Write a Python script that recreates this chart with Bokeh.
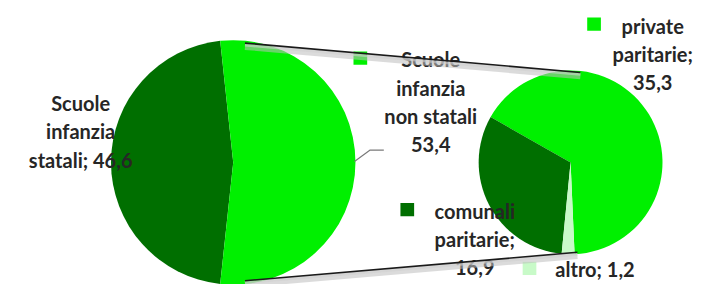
import numpy as np
from bokeh.plotting import figure
from bokeh.models import Range1d, ColumnDataSource
from bokeh.core.properties import value
from bokeh.embed import file_html
from bokeh.resources import INLINE

# ---- data ----
main_labels = ["Scuole infanzia statali", "Scuole infanzia non statali"]
main_values = [46.6, 53.4]
sub_labels = ["private paritarie", "comunali paritarie", "altro"]
sub_values = [35.3, 16.9, 1.2]

# ---- styles ----
DARK = "#006F00"
BRIGHT = "#00F000"
LIGHT = "#C8FAC8"
TXT = "#262626"
FONT = value("Lato")

W, H = 706, 284
p = figure(width=W, height=H, output_backend="svg", toolbar_location=None,
           x_axis_location=None, y_axis_location=None, min_border=0,
           x_range=Range1d(0, 722), y_range=Range1d(0, 300))
p.grid.visible = False
p.outline_line_color = None
p.background_fill_color = "white"


def Y(py):
    # reference pixel y -> data y
    return 300 - py


def fmt(v):
    return f"{v:.1f}".replace(".", ",")


# ---- main pie ----
cx1, cy1, r1 = 238, 171, 125
tot = sum(main_values)
half = main_values[1] / tot * np.pi
main_start = [half, -half]
main_end = [2 * np.pi - half, half]
p.wedge(x=[cx1, cx1], y=[Y(cy1)] * 2, radius=r1, start_angle=main_start,
        end_angle=main_end, fill_color=[DARK, BRIGHT], line_color=None)

# ---- sub pie ----
cx2, cy2, r2 = 583, 171, 94
sub_tot = sum(sub_values)
a0 = np.deg2rad(-87.5)
ang = np.cumsum([0] + [v / sub_tot * 2 * np.pi for v in sub_values])
p.wedge(x=[cx2] * 3, y=[Y(cy2)] * 3, radius=r2,
        start_angle=list(a0 + ang[:-1]), end_angle=list(a0 + ang[1:]),
        fill_color=[BRIGHT, DARK, LIGHT], line_color=None)

# ---- labels ----
def lines_at(lines, x, y0, dy, align="center"):
    src = ColumnDataSource(dict(x=[x] * len(lines),
                                y=[Y(y0 + i * dy) for i in range(len(lines))],
                                t=lines))
    p.text(x="x", y="y", text="t", source=src, text_font=FONT,
           text_font_style="bold", text_font_size="20px", text_color=TXT,
           text_align=align, text_baseline="middle")


lines_at(["Scuole", "infanzia", f"statali; {fmt(main_values[0])}"], 82, 108, 30)
lines_at(["Scuole", "infanzia", "non statali", fmt(main_values[1])], 440, 62, 30)
lines_at(["private", "paritarie;", fmt(sub_values[0])], 667, 27, 30)
lines_at(["comunali", "paritarie;", fmt(sub_values[1])], 485, 222, 30)
lines_at([f"{sub_labels[2]}; {fmt(sub_values[2])}"], 608, 284, 30)

# legend keys
p.rect(x=[368, 607, 416, 541], y=[Y(61), Y(25), Y(221), Y(283)],
       width=14, height=14, fill_color=[BRIGHT, BRIGHT, DARK, LIGHT],
       line_color=None)

# leader line
p.line(x=[362, 378, 392], y=[Y(170), Y(158), Y(158)], line_color="#7a7a7a",
       line_width=1.2)

# ---- connector lines with shadow ----
top = ([250, 593], [45, 76])
bot = ([250, 590], [296, 266])
for xs, ys in (top, bot):
    p.line(x=xs, y=[Y(v + 4) for v in ys], line_color="#bdbdbd",
           line_width=6, line_alpha=0.55)
    p.line(x=xs, y=[Y(v + 2) for v in ys], line_color="#d0d0d0",
           line_width=3, line_alpha=0.6)
    p.line(x=xs, y=[Y(v) for v in ys], line_color="#1a1a1a", line_width=1.6)

open("out.html", "w").write(file_html(p, INLINE))
